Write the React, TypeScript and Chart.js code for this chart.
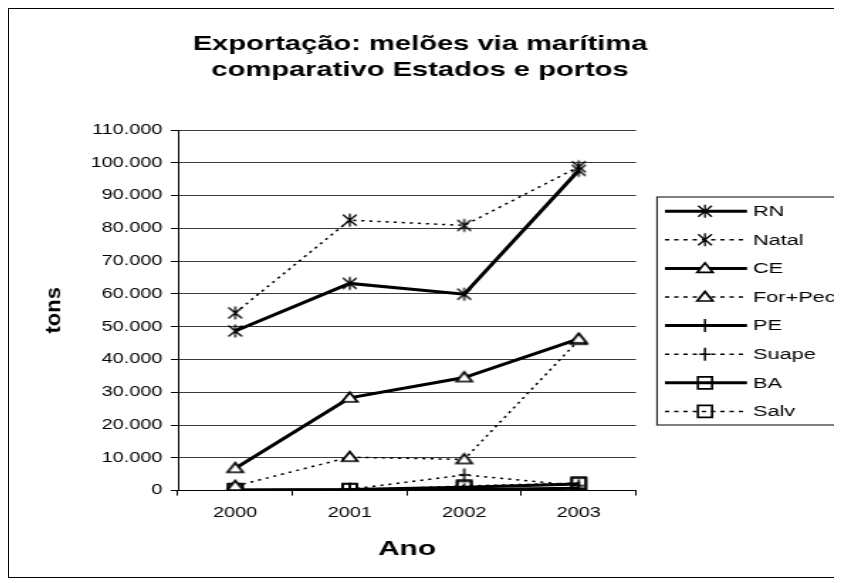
import { useEffect, useRef } from 'react';
import { Chart, registerables } from 'chart.js';

Chart.register(...registerables);

// Categories and series (tons exported by sea)
const years = ['2000', '2001', '2002', '2003'];
const rn = [48700, 63200, 59900, 97700];
const natal = [54200, 82500, 80900, 98800];
const ce = [6800, 28300, 34500, 46300];
const forPec = [1400, 10200, 9500, 45900];
const pe = [100, 200, 300, 700];
const suape = [100, 400, 4800, 1500];
const ba = [200, 300, 1000, 2000];
const salv = [300, 200, 1400, 2300];

const seriesNames = ['RN', 'Natal', 'CE', 'For+Pec', 'PE', 'Suape', 'BA', 'Salv'];
const yMin = 0;
const yMax = 110000;
const yStep = 10000;

const titleLines = ['Exportação: melões via marítima', 'comparativo Estados e portos'];
const xTitle = 'Ano';
const yTitle = 'tons';

// The drawing is made on a narrower canvas and widened with CSS.
const FRAME_W = 832;
const FRAME_H = 568;
const CANVAS_W = 586;
const SX = FRAME_W / CANVAS_W;

const FONT = "'Liberation Sans', Arial, Helvetica, sans-serif";

type MarkerKind = 'star' | 'triangle' | 'plus' | 'square';

function drawMarker(ctx: CanvasRenderingContext2D, kind: MarkerKind, x: number, y: number) {
  ctx.save();
  ctx.setLineDash([]);
  ctx.strokeStyle = '#000';
  ctx.lineWidth = 1.3;
  ctx.beginPath();
  if (kind === 'star') {
    ctx.moveTo(x - 4.8, y - 5.5);
    ctx.lineTo(x + 4.8, y + 5.5);
    ctx.moveTo(x - 4.8, y + 5.5);
    ctx.lineTo(x + 4.8, y - 5.5);
    ctx.moveTo(x, y - 6.5);
    ctx.lineTo(x, y + 6.5);
    ctx.stroke();
  } else if (kind === 'triangle') {
    ctx.moveTo(x, y - 5.5);
    ctx.lineTo(x + 5.5, y + 4);
    ctx.lineTo(x - 5.5, y + 4);
    ctx.closePath();
    ctx.fillStyle = '#fff';
    ctx.fill();
    ctx.lineWidth = 1.7;
    ctx.stroke();
  } else if (kind === 'plus') {
    ctx.moveTo(x, y - 6.5);
    ctx.lineTo(x, y + 6.5);
    ctx.moveTo(x - 4, y);
    ctx.lineTo(x + 4, y);
    ctx.lineWidth = 1.5;
    ctx.stroke();
  } else {
    ctx.rect(x - 5, y - 6, 10, 12);
    ctx.lineWidth = 1.7;
    ctx.stroke();
  }
  ctx.restore();
}

function markerImage(kind: MarkerKind): HTMLCanvasElement {
  const c = document.createElement('canvas');
  c.width = 18;
  c.height = 18;
  const g = c.getContext('2d');
  if (g) drawMarker(g, kind, 9, 9);
  return c;
}

interface SeriesSpec {
  name: string;
  values: number[];
  solid: boolean;
  marker: MarkerKind;
}

const SOLID_W = 3;
const DASH_W = 1.5;
const CHART_DASH = [2.2, 3.5];
const LEGEND_DASH = [3, 3.5];

export default function App() {
  const canvasRef = useRef<HTMLCanvasElement | null>(null);

  useEffect(() => {
    const canvas = canvasRef.current;
    if (!canvas) return;

    const specs: SeriesSpec[] = [
      { name: seriesNames[0], values: rn, solid: true, marker: 'star' },
      { name: seriesNames[1], values: natal, solid: false, marker: 'star' },
      { name: seriesNames[2], values: ce, solid: true, marker: 'triangle' },
      { name: seriesNames[3], values: forPec, solid: false, marker: 'triangle' },
      { name: seriesNames[4], values: pe, solid: true, marker: 'plus' },
      { name: seriesNames[5], values: suape, solid: false, marker: 'plus' },
      { name: seriesNames[6], values: ba, solid: true, marker: 'square' },
      { name: seriesNames[7], values: salv, solid: false, marker: 'square' },
    ];

    const images: Record<MarkerKind, HTMLCanvasElement> = {
      star: markerImage('star'),
      triangle: markerImage('triangle'),
      plus: markerImage('plus'),
      square: markerImage('square'),
    };

    const datasets = specs.map((s) => ({
      label: s.name,
      data: s.values,
      borderColor: '#000',
      backgroundColor: '#000',
      borderWidth: s.solid ? SOLID_W : DASH_W,
      borderDash: s.solid ? [] : CHART_DASH,
      pointStyle: images[s.marker],
      pointRadius: 5,
      pointHoverRadius: 5,
      tension: 0,
      fill: false,
    }));

    const formatThousands = (v: number) =>
      String(Math.round(v)).replace(/\B(?=(\d{3})+(?!\d))/g, '.');

    const decorations = {
      id: 'decorations',
      afterDraw(chart: Chart) {
        const ctx = chart.ctx;
        const area = chart.chartArea;

        // Title
        ctx.save();
        ctx.fillStyle = '#000';
        ctx.font = `bold 20.5px ${FONT}`;
        ctx.textAlign = 'center';
        ctx.textBaseline = 'middle';
        ctx.fillText(titleLines[0], 289.5, 35);
        ctx.fillText(titleLines[1], 289.5, 61);
        ctx.restore();

        // Vertical axis title, kept at natural proportions
        ctx.save();
        ctx.fillStyle = '#000';
        ctx.font = `bold 22px ${FONT}`;
        ctx.textAlign = 'center';
        ctx.textBaseline = 'middle';
        ctx.translate(31.5, (area.top + area.bottom) / 2);
        ctx.scale(1 / SX, 1);
        ctx.rotate(-Math.PI / 2);
        ctx.fillText(yTitle, 0, 0);
        ctx.restore();

        // Legend box
        const boxLeft = 456.4;
        const boxTop = 188;
        const boxBottom = 416;
        ctx.save();
        ctx.strokeStyle = '#000';
        ctx.lineWidth = 1;
        ctx.strokeRect(boxLeft, boxTop, 200, boxBottom - boxTop);
        ctx.font = `15.3px ${FONT}`;
        ctx.textAlign = 'left';
        ctx.textBaseline = 'middle';
        ctx.fillStyle = '#000';
        specs.forEach((s, i) => {
          const y = 202.2 + i * 28.6;
          ctx.save();
          ctx.beginPath();
          ctx.lineWidth = s.solid ? SOLID_W : DASH_W;
          ctx.setLineDash(s.solid ? [] : LEGEND_DASH);
          ctx.moveTo(462, y);
          ctx.lineTo(519.8, y);
          ctx.stroke();
          ctx.restore();
          drawMarker(ctx, s.marker, 490.2, y);
          ctx.fillText(s.name, 524, y + 0.5);
        });
        ctx.restore();
      },
    };

    const chart = new Chart(canvas, {
      type: 'line',
      data: { labels: years, datasets },
      options: {
        responsive: false,
        animation: false,
        devicePixelRatio: 1,
        layout: { padding: { top: 121, right: CANVAS_W - 441.6, bottom: 0, left: 0 } },
        plugins: {
          legend: { display: false },
          title: { display: false },
          tooltip: { enabled: false },
        },
        scales: {
          x: {
            type: 'category',
            offset: true,
            afterFit: (scale: any) => {
              scale.height = 86.4;
            },
            grid: {
              offset: true,
              display: true,
              drawOnChartArea: false,
              drawTicks: true,
              tickLength: 5,
              tickColor: '#000',
              lineWidth: 1,
            },
            border: { display: true, color: '#000', width: 1 },
            ticks: {
              color: '#000',
              padding: 9,
              maxRotation: 0,
              font: { family: FONT, size: 14 },
            },
            title: {
              display: true,
              text: xTitle,
              color: '#000',
              font: { family: FONT, size: 21, weight: 'bold' },
              padding: { top: 0, bottom: 15 },
            },
          },
          y: {
            min: yMin,
            max: yMax,
            afterFit: (scale: any) => {
              scale.width = 119;
            },
            grid: {
              color: '#3a3a3a',
              lineWidth: 1,
              drawTicks: true,
              tickLength: 5,
              tickColor: '#000',
            },
            border: { display: true, color: '#000', width: 1 },
            ticks: {
              stepSize: yStep,
              color: '#000',
              padding: 6,
              font: { family: FONT, size: 14 },
              callback: (v: any) => formatThousands(Number(v)),
            },
            title: { display: false },
          },
        },
      },
      plugins: [decorations],
    } as any);

    return () => {
      chart.destroy();
    };
  }, []);

  return (
    <div
      style={{
        width: FRAME_W,
        height: FRAME_H,
        border: '1px solid #000',
        overflow: 'hidden',
        position: 'relative',
        background: '#fff',
      }}
    >
      <canvas
        ref={canvasRef}
        width={CANVAS_W}
        height={FRAME_H}
        style={{
          display: 'block',
          width: CANVAS_W,
          height: FRAME_H,
          transform: `scaleX(${SX})`,
          transformOrigin: '0 0',
        }}
      />
    </div>
  );
}
